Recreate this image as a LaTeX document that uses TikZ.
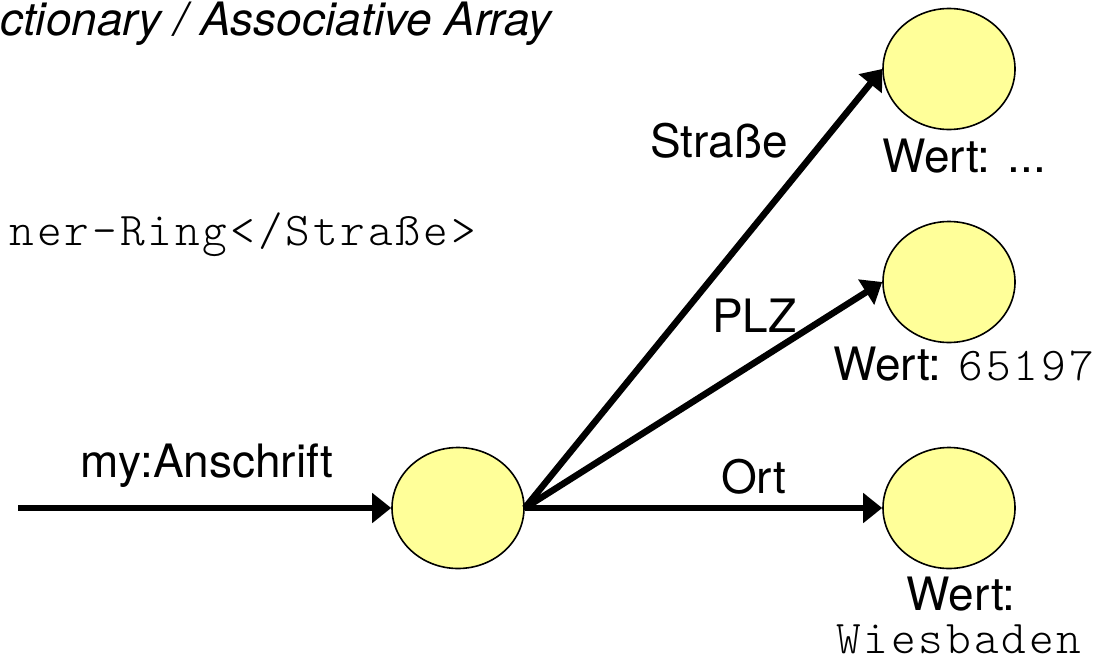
\documentclass[tikz,border=0pt]{standalone}
\usepackage{fontspec}
\setmainfont{TeX Gyre Heros}
\newfontfamily\codefont{Latin Modern Mono Light}[LetterSpace=6.2]
\usetikzlibrary{shapes.geometric,arrows.meta}
\definecolor{nodefill}{HTML}{FFFF99}
\tikzset{
  res/.style={ellipse,draw=black,line width=1.6pt,fill=nodefill,minimum width=132pt,minimum height=121pt,inner sep=0pt},
  arr/.style={line width=6.5pt,-{Triangle[length=19pt,width=29pt]}},
  lbl/.style={inner sep=0pt,font=\fontsize{46}{50}\selectfont},
}
\newcommand{\code}[1]{{\fontsize{47}{50}\codefont #1}}
\begin{document}
\begin{tikzpicture}[x=1pt,y=-1pt]
\useasboundingbox[fill=white] (0,0) rectangle (1110,664);
% title and code fragment
\node[lbl,anchor=base west,font=\fontsize{46}{50}\selectfont\itshape] (title) at (0,35) {ctionary / Associative Array};
\node[lbl,anchor=base east] (code) at (476,245) {\code{ner-Ring</Straße>}};
% resources
\node[res] (M) at (458,508) {};
\node[res] (T) at (949,69) {};
\node[res] (P) at (949,282) {};
\node[res] (O) at (949,508) {};
\coordinate (S) at (18,508);
% arrows
\draw[arr] (S) -- (M.west);
\draw[arr] (M.east) -- (T.west);
\draw[arr] (M.east) -- (P.west);
\draw[arr] (M.east) -- (O.west);
% edge labels
\node[lbl,anchor=base] (la) at (207,477) {my:Anschrift};
\node[lbl,anchor=base west] (ls) at (650,157) {Straße};
\node[lbl,anchor=base west] (lp) at (712,332) {PLZ};
\node[lbl,anchor=base west] (lo) at (721,493) {Ort};
% value labels
\node[lbl,anchor=base west] (vt) at (882,172) {Wert: ...};
\node[lbl,anchor=base east] (vp) at (1094,380) {Wert: \code{65197}};
\node[lbl,anchor=base] (vo) at (961,610) {Wert:};
\node[lbl,anchor=base west] (vw) at (836,653) {\code{Wiesbaden}};
\end{tikzpicture}
\end{document}
